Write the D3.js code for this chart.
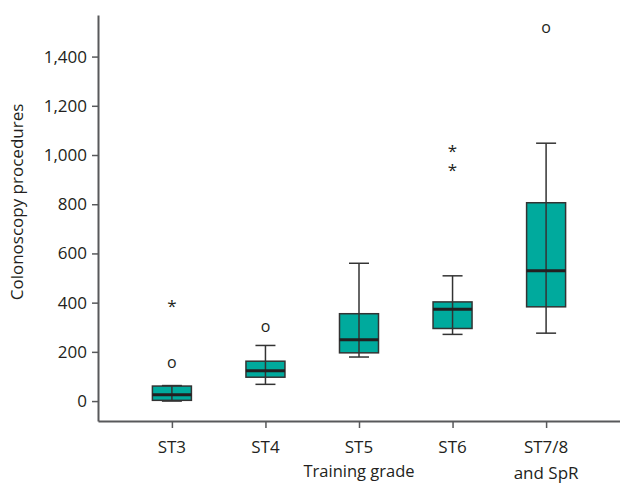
<!DOCTYPE html>
<html>
<head>
<meta charset="utf-8">
<script src="https://cdn.jsdelivr.net/npm/d3@7"></script>
<style>
  body { margin: 0; background: #fff; }
  text { font-family: "Open Sans", sans-serif; fill: #231f20; }
</style>
</head>
<body>
<svg id="chart" width="620" height="484"></svg>
<script>
// training grades along x
var grades = ['ST3', 'ST4', 'ST5', 'ST6', 'ST7/8|and SpR'];
// box stats per grade
var whiskerLow = [0, 68, 179, 271, 276];
var q1 = [3, 97, 196, 295, 383];
var median = [26, 123, 249, 373, 530];
var q3 = [61, 162, 355, 403, 806];
var whiskerHigh = [63, 226, 560, 509, 1048];
// outliers: 'o' = mild, '*' = extreme
var outlierGrade = ['ST3', 'ST3', 'ST4', 'ST6', 'ST6', 'ST7/8|and SpR'];
var outlierValue = [152, 392, 300, 1025, 944, 1515];
var outlierMark = ['o', '*', 'o', '*', '*', 'o'];
var yTicks = [0, 200, 400, 600, 800, 1000, 1200, 1400];

var svg = d3.select('#chart');
var plotLeft = 98, plotRight = 620, plotTop = 15, plotBottom = 421;

var x = d3.scalePoint().domain(grades).range([plotLeft, plotRight]).padding(0.79);
var y = d3.scaleLinear().domain([-81, 1569]).range([plotBottom, plotTop]);

var axisColor = '#58595b';
var boxW = 39, capW = 20;

// y axis
var yAxis = svg.append('g').attr('transform', 'translate(' + plotLeft + ',0)')
  .call(d3.axisLeft(y).tickValues(yTicks).tickSize(6).tickSizeOuter(0)
    .tickFormat(d3.format(',')));
yAxis.select('.domain').attr('stroke', axisColor).attr('stroke-width', 2);
yAxis.selectAll('.tick line').attr('stroke', axisColor).attr('stroke-width', 1.5);
yAxis.selectAll('.tick text').attr('font-size', 17).attr('x', -11).attr('fill', '#231f20')
  .attr('font-family', '"Open Sans", sans-serif');

// x axis
var xAxis = svg.append('g').attr('transform', 'translate(0,' + plotBottom + ')')
  .call(d3.axisBottom(x).tickSize(7).tickSizeOuter(0).tickFormat(''));
xAxis.select('.domain').attr('stroke', axisColor).attr('stroke-width', 2);
xAxis.selectAll('.tick line').attr('stroke', axisColor).attr('stroke-width', 1.5);

// x labels (multi-line)
grades.forEach(function(g) {
  var lines = g.split('|');
  var t = svg.append('text').attr('x', x(g)).attr('y', 453)
    .attr('text-anchor', 'middle').attr('font-size', 17);
  lines.forEach(function(l, i) {
    t.append('tspan').attr('x', x(g)).attr('dy', i === 0 ? 0 : 26).text(l);
  });
});

// axis titles
svg.append('text').attr('x', x('ST5')).attr('y', 477)
  .attr('text-anchor', 'middle').attr('font-size', 16.5).text('Training grade');
svg.append('text').attr('transform', 'translate(23,202) rotate(-90)')
  .attr('text-anchor', 'middle').attr('font-size', 17).text('Colonoscopy procedures');

// boxes
var boxes = svg.append('g');
grades.forEach(function(g, i) {
  var cx = x(g);
  var gr = boxes.append('g');
  gr.append('rect')
    .attr('x', cx - boxW / 2).attr('y', y(q3[i]))
    .attr('width', boxW).attr('height', y(q1[i]) - y(q3[i]))
    .attr('fill', '#00aa9d').attr('stroke', '#333').attr('stroke-width', 1.5);
  // whisker line through box
  gr.append('line').attr('x1', cx).attr('x2', cx)
    .attr('y1', y(whiskerHigh[i])).attr('y2', y(whiskerLow[i]))
    .attr('stroke', '#333').attr('stroke-width', 1.5);
  [whiskerHigh[i], whiskerLow[i]].forEach(function(v) {
    gr.append('line').attr('x1', cx - capW / 2).attr('x2', cx + capW / 2)
      .attr('y1', y(v)).attr('y2', y(v))
      .attr('stroke', '#333').attr('stroke-width', 1.5);
  });
  gr.append('line').attr('x1', cx - boxW / 2).attr('x2', cx + boxW / 2)
    .attr('y1', y(median[i])).attr('y2', y(median[i]))
    .attr('stroke', '#231f20').attr('stroke-width', 3);
});

// outliers
outlierValue.forEach(function(v, i) {
  var m = outlierMark[i];
  svg.append('text')
    .attr('x', x(outlierGrade[i])).attr('y', y(v))
    .attr('dy', m === '*' ? '0.45em' : '0.3em')
    .attr('text-anchor', 'middle').attr('font-size', m === '*' ? 17 : 16)
    .text(m);
});
</script>
</body>
</html>
